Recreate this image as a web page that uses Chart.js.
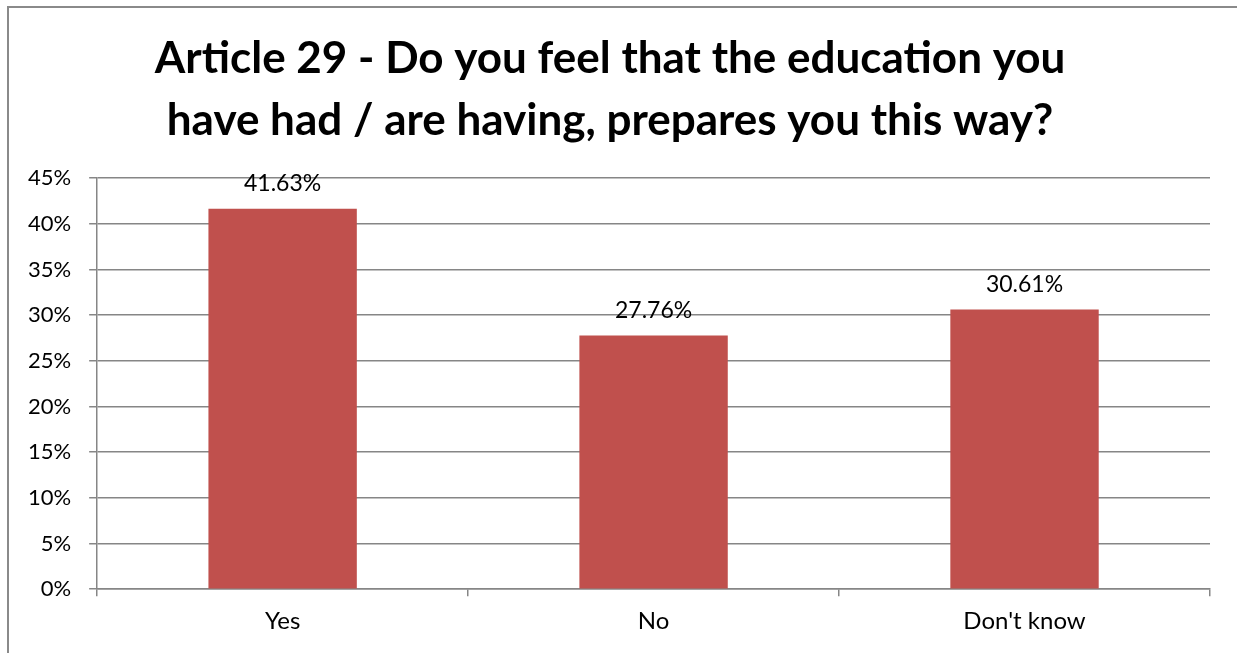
<!DOCTYPE html>
<html>
<head>
<meta charset="utf-8">
<script src="https://cdn.jsdelivr.net/npm/chart.js@4"></script>
<style>
  html, body { margin: 0; padding: 0; background: #fff; }
  .frame { position: absolute; left: 7px; top: 6px; width: 1260px; height: 700px;
           border-left: 2px solid #8a8a8a; border-top: 2px solid #8a8a8a; }
  .wrap { position: absolute; left: 0; top: 0; width: 1237px; height: 653px; }
</style>
</head>
<body>
<div class="frame"></div>
<div class="wrap"><canvas id="grafico"></canvas></div>
<script>
const categories = ['Yes', 'No', "Don't know"];
const values = [0.4163, 0.2776, 0.3061];
const valueLabels = ['41.63%', '27.76%', '30.61%'];
const titleLines = ['Article 29 - Do you feel that the education you', 'have had / are having, prepares you this way?'];

// etiquetas encima de cada barra
const etiquetas = {
    id: 'etiquetas',
    afterDatasetsDraw(chart) {
        const ctx = chart.ctx;
        const meta = chart.getDatasetMeta(0);
        ctx.save();
        ctx.font = '23px Lato';
        ctx.fillStyle = '#000';
        ctx.textAlign = 'center';
        ctx.textBaseline = 'alphabetic';
        meta.data.forEach((bar, i) => {
            ctx.fillText(valueLabels[i], bar.x, bar.y - 18);
        });
        ctx.restore();
    }
};

document.addEventListener('DOMContentLoaded', function () {
    const ctx = document.getElementById('grafico').getContext('2d');
    new Chart(ctx, {
        type: 'bar',
        data: {
            labels: categories,
            datasets: [{
                data: values,
                backgroundColor: '#C0504D',
                borderWidth: 0,
                categoryPercentage: 1,
                barPercentage: 0.4
            }]
        },
        options: {
            responsive: true,
            maintainAspectRatio: false,
            animation: false,
            layout: { padding: { left: 10, right: 27, top: 0, bottom: 6 } },
            plugins: {
                legend: { display: false },
                tooltip: { enabled: false },
                title: {
                    display: true,
                    text: titleLines,
                    color: '#000',
                    font: { family: 'Lato', size: 44, weight: 'bold', lineHeight: 1.41 },
                    padding: { top: 28, bottom: 26 }
                }
            },
            scales: {
                y: {
                    min: 0,
                    max: 0.45,
                    ticks: {
                        stepSize: 0.05,
                        color: '#000',
                        font: { family: 'Lato', size: 22 },
                        padding: 18,
                        callback: v => Math.round(v * 100) + '%'
                    },
                    grid: { color: '#868686', lineWidth: 1.5, tickLength: 8 },
                    border: { color: '#868686', width: 1.5 }
                },
                x: {
                    ticks: { color: '#000', font: { family: 'Lato', size: 24 }, padding: 11 },
                    grid: { drawOnChartArea: false, color: '#868686', lineWidth: 1.5, tickLength: 7 },
                    border: { color: '#868686', width: 1.5 }
                }
            }
        },
        plugins: [etiquetas]
    });
});
</script>
</body>
</html>
